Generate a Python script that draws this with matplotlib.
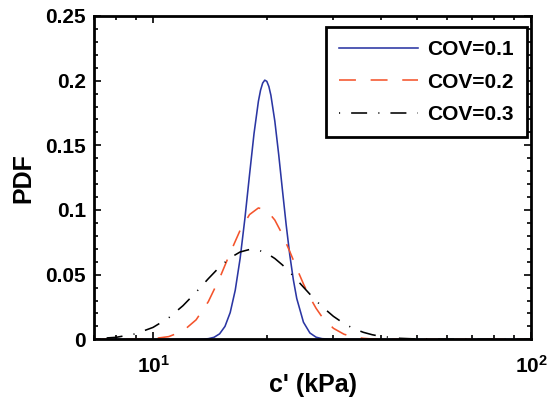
import matplotlib
matplotlib.use("Agg")
import matplotlib.pyplot as plt
from matplotlib.ticker import (FixedLocator, FixedFormatter, MultipleLocator,
                               LogLocator, NullFormatter)

# Data (c' in kPa, PDF values)
x_cov1 = [7, 10, 12, 13, 13.5, 14, 14.5, 15, 15.5, 16, 16.5, 17, 17.5, 18,
          18.5, 19, 19.25, 19.5, 19.75, 20, 20.25, 20.5, 21, 21.5, 22, 22.5,
          23, 23.5, 24, 25, 26, 27, 28, 30, 35, 50, 100]
pdf_cov1 = [0, 0, 0, 0.00003, 0.00013, 0.00049, 0.00156, 0.00424, 0.0100,
            0.02068, 0.0380, 0.06265, 0.09348, 0.12723, 0.15913, 0.18409,
            0.19264, 0.19813, 0.20041, 0.19947, 0.19550, 0.18876, 0.16865,
            0.14286, 0.11514, 0.08861, 0.06531, 0.04625, 0.03154, 0.01323,
            0.00491, 0.00164, 0.00050, 0.00004, 0, 0, 0]

x_cov2 = [7, 8, 9, 10, 11, 12, 13, 14, 15, 16, 17, 18, 19, 20, 21, 22, 23,
          24, 25, 26, 27, 28, 30, 32, 34, 36, 38, 40, 45, 50, 60, 70, 100]
pdf_cov2 = [0, 0.00001, 0.00008, 0.00049, 0.00208, 0.00637, 0.01508, 0.02905,
            0.04726, 0.06691, 0.08435, 0.09646, 0.10159, 0.09974, 0.09220,
            0.08094, 0.06794, 0.05486, 0.04282, 0.03245, 0.02397, 0.01730,
            0.00852, 0.00394, 0.00174, 0.00074, 0.00031, 0.00012, 0.00001,
            0, 0, 0, 0]

x_cov3 = [7, 8, 9, 10, 11, 12, 13, 14, 15, 16, 17, 18, 19, 20, 21, 22, 23,
          24, 25, 26, 27, 28, 30, 32, 34, 36, 38, 40, 45, 50, 60, 70, 100]
pdf_cov3 = [0.00042, 0.00157, 0.00428, 0.00922, 0.01660, 0.02600, 0.03649,
            0.04685, 0.05598, 0.06303, 0.06755, 0.06946, 0.06898, 0.06649,
            0.06249, 0.05747, 0.05187, 0.04607, 0.04034, 0.03490, 0.02986,
            0.02532, 0.01778, 0.01218, 0.00818, 0.00542, 0.00355, 0.00230,
            0.00077, 0.00025, 0.00003, 0, 0]

labels = ["COV=0.1", "COV=0.2", "COV=0.3"]
y_ticks = [0, 0.05, 0.1, 0.15, 0.2, 0.25]
y_tick_labels = ["0", "0.05", "0.1", "0.15", "0.2", "0.25"]
x_ticks = [10, 100]
x_tick_labels = [r"$\mathbf{10^{1}}$", r"$\mathbf{10^{2}}$"]

plt.rcParams['font.family'] = ['Liberation Sans', 'DejaVu Sans']
plt.rcParams['font.weight'] = 'bold'
plt.rcParams['mathtext.fontset'] = 'custom'
plt.rcParams['mathtext.rm'] = 'Liberation Sans:bold'
plt.rcParams['mathtext.bf'] = 'Liberation Sans:bold'

fig = plt.figure(figsize=(5.5, 4.04), dpi=100)
ax = fig.add_axes([0.1718, 0.1601, 0.7937, 0.8003])

ax.plot(x_cov1, pdf_cov1, color='#2B36A3', lw=1.15, label=labels[0])
ax.plot(x_cov2, pdf_cov2, color='#F4542C', lw=1.15, dashes=(10.6, 9.2),
        label=labels[1])
ax.plot(x_cov3, pdf_cov3, color='black', lw=1.15,
        dashes=(0.7, 6.9, 10.0, 7.0), label=labels[2])

ax.set_xscale('log')
ax.set_xlim(7, 100)
ax.set_ylim(0, 0.25)

ax.xaxis.set_major_locator(FixedLocator(x_ticks))
ax.xaxis.set_major_formatter(FixedFormatter(x_tick_labels))
ax.xaxis.set_minor_locator(LogLocator(base=10, subs=range(2, 10)))
ax.xaxis.set_minor_formatter(NullFormatter())
ax.yaxis.set_major_locator(FixedLocator(y_ticks))
ax.yaxis.set_major_formatter(FixedFormatter(y_tick_labels))
ax.yaxis.set_minor_locator(MultipleLocator(0.01))

ax.tick_params(which='both', direction='in', top=True, right=True,
               width=1.2, labelsize=15)
ax.tick_params(which='major', length=5)
ax.tick_params(which='minor', length=3)
ax.tick_params(axis='x', pad=11)
ax.tick_params(axis='y', pad=6)

for s in ax.spines.values():
    s.set_linewidth(2.0)

ax.set_xlabel("c' (kPa)", fontsize=18, fontweight='bold')
ax.set_ylabel("PDF", fontsize=18, fontweight='bold')
ax.xaxis.set_label_coords(0.5, -0.105)
ax.yaxis.set_label_coords(-0.135, 0.5)

leg = ax.legend(loc='upper right', bbox_to_anchor=(0.9908, 0.966),
                borderaxespad=0, fontsize=15, handlelength=3.8,
                handletextpad=0.45, labelspacing=0.66, borderpad=0.62,
                fancybox=False, framealpha=1, edgecolor='black')
leg.get_frame().set_linewidth(2.0)

fig.savefig("out.png", dpi=100)
